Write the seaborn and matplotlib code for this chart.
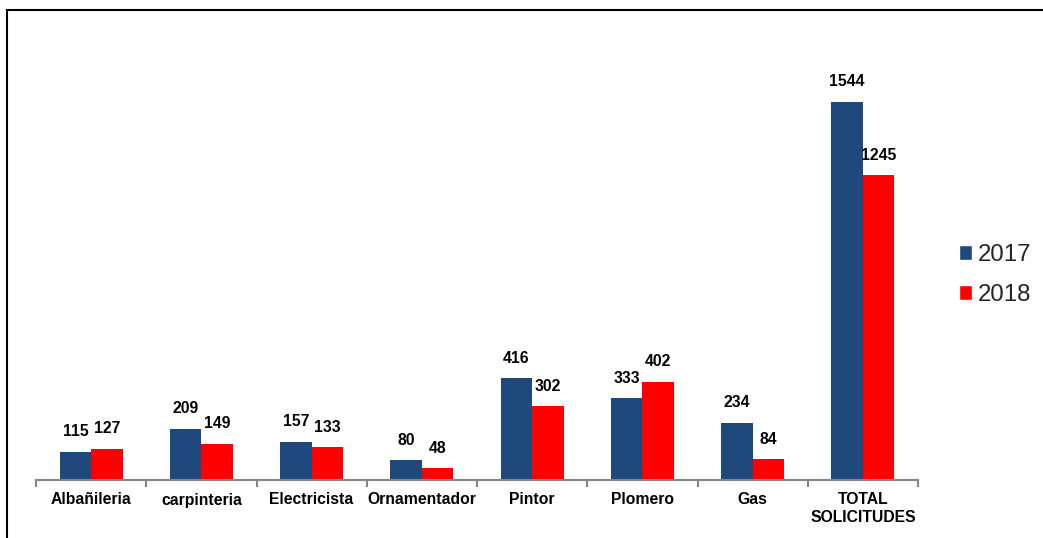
import matplotlib
matplotlib.use("Agg")
import matplotlib.pyplot as plt
import seaborn as sns
import pandas as pd
from matplotlib.patches import Rectangle

categories = ["Albañileria", "carpinteria", "Electricista", "Ornamentador",
              "Pintor", "Plomero", "Gas", "TOTAL\nSOLICITUDES"]
values_2017 = [115, 209, 157, 80, 416, 333, 234, 1544]
values_2018 = [127, 149, 133, 48, 302, 402, 84, 1245]
series = ["2017", "2018"]
colors = ["#1F497D", "#FF0000"]

df = pd.DataFrame({
    "cat": categories * 2,
    "year": [series[0]] * len(categories) + [series[1]] * len(categories),
    "val": values_2017 + values_2018,
})

sns.set_theme(style="white")
plt.rcParams["font.family"] = ["Liberation Sans", "DejaVu Sans"]

W, H = 1043, 538
fig = plt.figure(figsize=(W / 100, H / 100), dpi=100)
ax = fig.add_axes([36 / W, 1 - 480 / H, (918 - 36) / W, (480 - 30) / H])

sns.barplot(data=df, x="cat", y="val", hue="year", palette=colors,
            width=0.57, gap=0, saturation=1, ax=ax, legend=False,
            edgecolor="none", linewidth=0)

for cont in ax.containers:
    ax.bar_label(cont, padding=9, fontsize=11.3, fontweight="bold", color="black")

ax.set_xlim(-0.5, len(categories) - 0.5)
ax.set_ylim(0, 1838)
ax.set_xlabel("")
ax.set_ylabel("")
ax.set_yticks([])
for s in ["top", "right", "left"]:
    ax.spines[s].set_visible(False)
ax.spines["bottom"].set_color("#868686")
ax.spines["bottom"].set_linewidth(1.5)

ax.set_xticks(range(len(categories)))
ax.set_xticklabels(categories, fontsize=11.3, fontweight="bold", color="black")
ax.set_xticks([i - 0.5 for i in range(len(categories) + 1)], minor=True)
ax.tick_params(axis="x", which="major", length=0, pad=9)
ax.tick_params(axis="x", which="minor", length=5, width=1.5, color="#868686",
               direction="out", bottom=True)

handles = [Rectangle((0, 0), 1, 1, facecolor=c) for c in colors]
fig.legend(handles, series, loc="center left",
           bbox_to_anchor=(937 / W, 1 - 275 / H), frameon=False,
           fontsize=17.3, handlelength=0.55, handleheight=0.55,
           handletextpad=0.25, labelspacing=0.75)

frame = Rectangle((7 / W, -0.05), 1.1, 1 - 10 / H + 0.05, transform=fig.transFigure,
                  fill=False, edgecolor="black", linewidth=1.5)
fig.patches.append(frame)

fig.savefig("out.png", dpi=100)
